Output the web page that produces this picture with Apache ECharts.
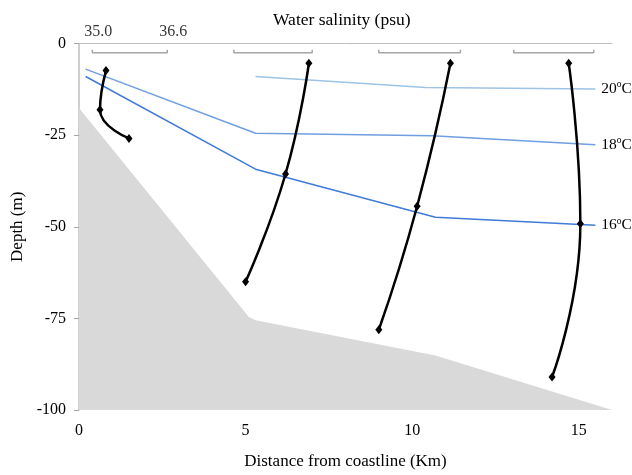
<!DOCTYPE html>
<html><head><meta charset="utf-8">
<script src="https://cdn.jsdelivr.net/npm/echarts@6/dist/echarts.min.js"></script>
<style>html,body{margin:0;padding:0;background:#fff}#c{width:632px;height:475px}</style>
</head><body><div id="c"></div>
<script>
// ---- data ----
const xTicks = [0, 5, 10, 15];
const yTicks = [-100, -75, -50, -25, 0];
const seabed = [[0, -17.6], [5.1, -74.6], [5.3, -75.5], [10.7, -85.1], [16, -100]];
const isoNames = ['20', '18', '16'];
const iso20 = [[5.3, -9.0], [10.4, -12.0], [15.5, -12.4]];
const iso18 = [[0.2, -7.0], [5.3, -24.5], [10.6, -25.2], [15.5, -27.6]];
const iso16 = [[0.2, -9.0], [5.3, -34.3], [10.7, -47.4], [15.5, -49.6]];
const sal1 = [[0.81, -7.4], [0.63, -18.1], [1.5, -25.9]];
const sal2 = [[6.9, -5.4], [6.2, -35.6], [5.0, -65.0]];
const sal3 = [[11.15, -5.4], [10.15, -44.4], [9.0, -78.1]];
const sal4 = [[14.7, -5.4], [15.05, -49.2], [14.2, -91.0]];
const salScaleX = [[0.4, 2.65], [4.65, 7.0], [9.0, 11.45], [13.05, 15.45]];
const salScaleDepth = -2.5;
const salScaleLabels = ['35.0', '36.6'];

const FONT = 'Liberation Serif';
const chart = echarts.init(document.getElementById('c'), null, {renderer: 'canvas'});

const isoColors = ['#9DC3E6', '#6F9FE0', '#3F7BD8'];
const isoData = [iso20, iso18, iso16];
const salData = [sal1, sal2, sal3, sal4];

const series = [];
series.push({
  type: 'line', data: seabed, symbol: 'none', silent: true, z: 1,
  lineStyle: {width: 0}, areaStyle: {color: '#D9D9D9', origin: 'start', opacity: 1}
});
isoData.forEach((d, i) => {
  series.push({
    type: 'line', data: d, symbol: 'none', z: 2,
    lineStyle: {color: isoColors[i], width: 1.5},
    endLabel: {
      show: true, distance: 6,
      formatter: '{n|' + isoNames[i] + '}{s|o}{n|C}',
      rich: {
        n: {fontFamily: FONT, fontSize: 15.5, color: '#000', lineHeight: 18},
        s: {fontFamily: FONT, fontSize: 9.5, color: '#000', verticalAlign: 'top', lineHeight: 18, padding: [0, 0, 7, 0]}
      }
    }
  });
});
salScaleX.forEach(([a, b]) => {
  series.push({
    type: 'line', symbol: 'none', z: 2,
    data: [[a, salScaleDepth + 0.8], [a, salScaleDepth], [b, salScaleDepth], [b, salScaleDepth + 0.8]],
    lineStyle: {color: '#A6A6A6', width: 1.5}
  });
});
series.push({
  type: 'scatter', clip: false, symbolSize: 0, z: 3,
  data: [[salScaleX[0][0], 3.2], [salScaleX[0][1], 3.2]].map((p, i) => ({value: p, name: salScaleLabels[i]})),
  label: {show: true, position: 'inside', offset: [6, 0], formatter: p => p.name,
    fontFamily: FONT, fontSize: 16, color: '#000'}
});
salData.forEach(d => {
  series.push({
    type: 'line', data: d, smooth: 0.5, z: 4,
    symbol: 'diamond', symbolSize: [7, 9],
    itemStyle: {color: '#000'},
    lineStyle: {color: '#000', width: 2.5}
  });
});

chart.setOption({
  animation: false,
  title: {text: 'Water salinity (psu)', left: 268, top: 6,
    textStyle: {fontFamily: FONT, fontSize: 17.5, fontWeight: 'normal', color: '#000'}},
  grid: {left: 79, right: 20, top: 43.5, bottom: 65, containLabel: false},
  xAxis: {
    type: 'value', min: 0, max: 16, interval: 5,
    name: 'Distance from coastline (Km)', nameLocation: 'middle', nameGap: 43,
    nameTextStyle: {fontFamily: FONT, fontSize: 17, color: '#000'},
    axisLine: {show: true, lineStyle: {color: '#BFBFBF'}},
    axisTick: {show: false}, splitLine: {show: false},
    axisLabel: {fontFamily: FONT, fontSize: 16, color: '#000', margin: 13,
      formatter: v => xTicks.includes(v) ? String(v) : ''}
  },
  yAxis: {
    type: 'value', min: -100, max: 0, interval: 25,
    name: 'Depth (m)', nameLocation: 'middle', nameGap: 50, nameRotate: 90,
    nameTextStyle: {fontFamily: FONT, fontSize: 17, color: '#000'},
    axisLine: {show: true, lineStyle: {color: '#BFBFBF', width: 1.5}},
    axisTick: {show: true, length: 5, lineStyle: {color: '#A6A6A6'}},
    splitLine: {show: false},
    axisLabel: {fontFamily: FONT, fontSize: 16, color: '#000', margin: 13,
      formatter: v => yTicks.includes(v) ? String(v) : ''}
  },
  series: series
});
</script></body></html>
